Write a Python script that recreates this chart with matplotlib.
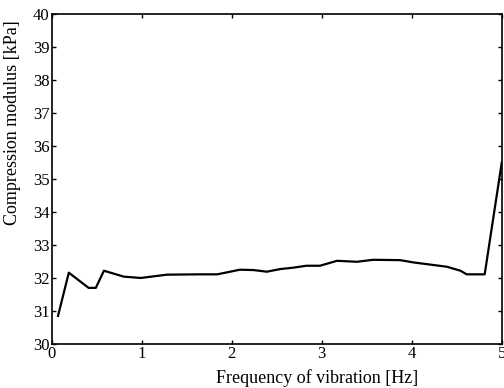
import matplotlib
matplotlib.use("Agg")
import matplotlib.pyplot as plt

# Data
freq = [0.07, 0.19, 0.41, 0.49, 0.58, 0.80, 0.99, 1.28, 1.65, 1.84,
        2.09, 2.24, 2.39, 2.54, 2.68, 2.83, 2.98, 3.17, 3.39, 3.57,
        3.87, 4.02, 4.39, 4.54, 4.61, 4.81, 5.0]
modulus = [30.85, 32.16, 31.70, 31.70, 32.22, 32.04, 32.00, 32.10, 32.11, 32.11,
           32.25, 32.24, 32.19, 32.27, 32.31, 32.37, 32.37, 32.52, 32.49, 32.55,
           32.54, 32.47, 32.34, 32.22, 32.11, 32.11, 35.5]

x_ticks = [0, 1, 2, 3, 4, 5]
y_ticks = list(range(30, 41))

plt.rcParams["font.family"] = ["Liberation Serif", "DejaVu Serif"]

fig = plt.figure(figsize=(5.04, 3.88), dpi=100)
ax = fig.add_axes([0.1026, 0.1134, 0.893, 0.851])

ax.plot(freq, modulus, color="black", linewidth=1.6)

ax.set_xlim(0, 5)
ax.set_ylim(30, 40)
ax.set_xticks(x_ticks)
ax.set_yticks(y_ticks)
ax.tick_params(direction="in", top=True, right=True, length=3, width=1,
               labelsize=12, pad=1.5)
for s in ax.spines.values():
    s.set_linewidth(1.2)

# labels sit off-centre in the original
ax.set_xlabel("Frequency of vibration [Hz]", fontsize=13)
ax.set_ylabel("Compression modulus [kPa]", fontsize=13)
ax.xaxis.set_label_coords(0.59, -0.075)
ax.yaxis.set_label_coords(-0.068, 0.67)

fig.savefig("out.png", dpi=100)
